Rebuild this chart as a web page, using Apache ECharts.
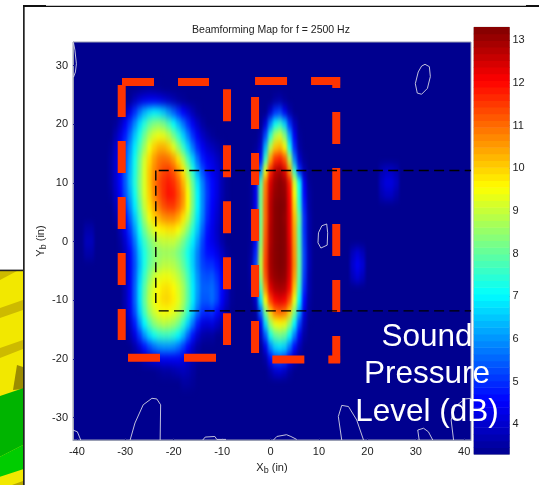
<!DOCTYPE html>
<html><head><meta charset="utf-8">
<style>
html,body{margin:0;padding:0;background:#fff;width:539px;height:485px;overflow:hidden}
#clip{position:absolute;left:73px;top:42px;width:398px;height:398px;overflow:hidden;background:#00008F}
#field{position:absolute;left:-73px;top:-42px;width:539px;height:485px;filter:url(#soft)}
#top{position:absolute;left:0;top:0;width:539px;height:485px}
</style>
<script src="https://cdn.jsdelivr.net/npm/echarts@6/dist/echarts.min.js"></script>
</head><body>
<svg width="0" height="0" style="position:absolute"><filter id="soft" x="0" y="0" width="100%" height="100%" color-interpolation-filters="sRGB"><feGaussianBlur stdDeviation="1.6 4"/></filter></svg>
<div id="clip"><div id="field"></div></div>
<div id="top"></div>
<script>
const F = 3.3;
const titleText = 'Beamforming Map for f = 2500 Hz';
const xTicks = [-40,-30,-20,-10,0,10,20,30,40];
const yTicks = [-30,-20,-10,0,10,20,30];
const barTicks = [4,5,6,7,8,9,10,11,12,13];
const fieldY = [26,24,22,20,18,16,14,12,10,8,6,4,2,0,-2,-4,-6,-8,-10,-12,-14,-16,-18,-20,-22,-24];
const leftX = [-34,-33,-32,-31,-30,-29,-28,-27,-26,-25,-24,-23,-22,-21,-20,-19,-18,-17,-16,-15,-14,-13,-12,-11,-10,-9,-8];
const leftRows = [
[F,F,F,F,F,F,F,3.35,3.4,3.45,3.4,3.35,F,F,F,F,F,F,F,F,F,F,F,F,F,F,F],
[F,F,F,F,F,3.4,3.8,4.1,4.3,4.4,4.4,4.3,4.1,3.9,3.7,3.5,3.4,F,F,F,F,F,F,F,F,F,F],
[F,F,F,3.4,3.7,4.3,5.0,5.7,6.3,6.7,6.9,6.8,6.5,6.0,5.5,5.0,4.5,4.1,3.7,3.4,F,F,F,F,F,F,F],
[F,F,3.4,3.8,4.4,5.1,5.9,6.7,7.4,8.0,8.3,8.4,8.2,7.7,7.1,6.4,5.7,5.0,4.4,3.9,3.5,F,F,F,F,F,F],
[F,F,3.7,4.2,4.8,5.6,6.5,7.3,8.1,8.8,9.2,9.4,9.3,8.9,8.2,7.5,6.6,5.8,5.0,4.4,3.9,3.6,3.4,F,F,F,F],
[F,3.4,3.9,4.5,5.2,6.0,6.9,7.8,8.6,9.4,10,10.3,10.3,10,9.3,8.5,7.6,6.6,5.7,4.9,4.4,4.0,3.8,3.6,3.4,F,F],
[F,3.5,4.0,4.6,5.3,6.2,7.2,8.2,9.1,9.9,10.5,10.9,11,10.9,10.5,9.8,8.8,7.7,6.6,5.6,4.8,4.4,4.2,3.9,3.6,3.4,F],
[F,3.5,4.0,4.6,5.4,6.3,7.3,8.3,9.2,10.1,10.7,11.1,11.4,11.5,11.2,10.6,9.8,8.6,7.4,6.2,5.3,4.7,4.4,4.1,3.7,3.4,F],
[F,3.5,4.0,4.6,5.4,6.4,7.4,8.4,9.2,10.1,10.8,11.3,11.6,11.8,11.6,11.1,10.3,9.2,8.0,6.8,5.8,5.0,4.6,4.2,3.7,3.4,F],
[F,3.4,3.9,4.5,5.3,6.2,7.2,8.3,9.2,10,10.7,11.2,11.6,11.9,11.8,11.3,10.6,9.5,8.2,7.0,5.9,5.1,4.6,4.2,3.7,3.4,F],
[F,F,3.7,4.3,5.0,5.9,6.9,8.0,9.0,9.8,10.4,10.9,11.3,11.5,11.5,11.1,10.5,9.5,8.2,7.0,5.9,5.0,4.5,4.1,3.6,3.4,F],
[F,F,3.5,4.0,4.6,5.5,6.5,7.6,8.6,9.4,10,10.3,10.6,10.7,10.7,10.4,9.8,9.0,7.9,6.8,5.8,4.9,4.4,4.0,3.6,F,F],
[F,F,F,3.7,4.3,5.1,6.1,7.2,8.1,8.8,9.3,9.6,9.7,9.8,9.8,9.5,9.0,8.3,7.4,6.5,5.5,4.7,4.3,3.9,3.5,F,F],
[F,F,F,3.5,4.0,4.8,5.7,6.8,7.6,8.2,8.6,8.9,9.0,9.0,9.0,8.7,8.2,7.6,6.9,6.1,5.2,4.6,4.3,4.0,3.6,F,F],
[F,F,F,3.4,3.8,4.5,5.4,6.5,7.3,7.9,8.3,8.5,8.6,8.6,8.5,8.2,7.8,7.2,6.6,5.8,5.1,4.7,4.6,4.3,3.9,3.5,F],
[F,F,F,F,3.7,4.4,5.3,6.4,7.3,8.0,8.4,8.7,8.9,8.9,8.8,8.5,8.0,7.4,6.6,5.8,5.2,5.0,5.0,4.7,4.2,3.7,3.4],
[F,F,F,F,3.7,4.4,5.4,6.6,7.6,8.4,9.0,9.3,9.4,9.4,9.2,8.9,8.4,7.7,6.8,6.0,5.4,5.3,5.4,5.0,4.5,3.9,3.4],
[F,F,F,F,3.7,4.4,5.5,6.8,7.9,8.8,9.3,9.6,9.8,9.8,9.6,9.2,8.7,7.9,6.9,6.1,5.5,5.5,5.6,5.2,4.6,4.0,3.4],
[F,F,F,F,3.7,4.4,5.5,6.8,8.0,8.9,9.4,9.7,9.9,9.9,9.7,9.3,8.7,7.9,6.9,6.0,5.4,5.4,5.6,5.2,4.5,3.9,3.4],
[F,F,F,F,3.6,4.3,5.3,6.6,7.7,8.6,9.1,9.4,9.5,9.5,9.3,9.0,8.4,7.5,6.5,5.6,5.0,4.9,5.0,4.6,4.1,3.6,F],
[F,F,F,F,3.4,3.9,4.8,6.0,7.0,7.8,8.4,8.7,8.9,8.8,8.6,8.2,7.5,6.6,5.7,4.8,4.2,4.1,4.2,3.9,3.6,F,F],
[F,F,F,F,F,3.6,4.2,5.1,6.0,6.7,7.2,7.5,7.6,7.6,7.4,7.0,6.4,5.5,4.7,4.0,3.6,3.5,3.5,F,F,F,F],
[F,F,F,F,F,F,3.6,4.1,4.7,5.2,5.6,5.9,6.0,6.0,5.9,5.6,5.1,4.5,3.9,3.5,F,F,F,F,F,F,F],
[F,F,F,F,F,F,F,3.4,3.7,3.9,4.1,4.3,4.4,4.4,4.4,4.4,4.2,3.9,3.6,3.4,F,F,F,F,F,F,F],
[F,F,F,F,F,F,F,F,F,F,F,3.4,3.5,3.5,3.6,3.7,3.8,3.7,3.5,F,F,F,F,F,F,F,F],
[F,F,F,F,F,F,F,F,F,F,F,F,F,F,F,F,3.5,3.5,3.4,F,F,F,F,F,F,F,F]
];
const rightX = [-6,-5,-4,-3,-2,-1,0,1,2,3,4,5,6,7,8,9,10];
const rightRows = [
[F,F,F,F,F,F,F,F,F,F,F,F,F,F,F,F,F],
[F,F,F,F,F,F,F,3.5,3.6,3.4,F,F,F,F,F,F,F],
[F,F,F,F,F,F,4.0,5.0,5.2,4.4,3.6,F,F,F,F,F,F],
[F,F,F,F,F,4.1,5.8,7.1,7.5,6.6,5.0,3.8,F,F,F,F,F],
[F,F,F,F,3.6,5.2,7.4,8.8,9.2,8.3,6.2,4.4,3.4,F,F,F,F],
[F,F,F,3.4,3.9,6.3,8.8,10.1,10.3,9.6,7.2,4.9,3.5,F,F,F,F],
[F,F,F,3.6,4.6,7.6,10.4,11.6,11.8,11.2,8.8,5.8,4.0,3.4,F,F,F],
[F,F,F,3.9,6.0,9.4,11.7,12.7,12.9,12.3,10.6,7.6,5.0,3.7,F,F,F],
[F,F,3.4,4.3,7.9,10.8,12.4,13,13.2,13,11.8,9.2,7.1,4.4,3.4,F,F],
[F,F,3.4,4.3,8.1,10.9,12.6,13.1,13.2,13.1,12,9.6,7.3,4.6,3.5,F,F],
[F,F,3.4,4.4,8.2,11,12.7,13.2,13.3,13.2,12.1,9.9,7.5,4.8,3.5,F,F],
[F,F,3.4,4.5,8.2,11,12.7,13.2,13.3,13.1,12.2,10.2,8.0,5.0,3.6,F,F],
[F,F,3.4,4.5,8.3,11.1,12.8,13.2,13.3,13.2,12.2,10.4,7.8,5.0,3.6,F,F],
[F,F,3.4,4.6,8.4,11.2,12.8,13.2,13.3,13.2,12.3,10.5,7.9,5.1,3.6,F,F],
[F,F,3.5,4.9,8.7,11.3,12.9,13.2,13.3,13.2,12.4,10.6,8.0,5.2,3.7,F,F],
[F,F,3.6,5.2,8.9,11.4,12.9,13.2,13.3,13.2,12.4,10.7,8.0,5.2,3.7,F,F],
[F,F,3.5,5.0,8.6,11.2,12.8,13.1,13.2,13.1,12.3,10.5,7.9,5.1,3.6,F,F],
[F,F,3.4,4.5,7.9,10.6,12.3,12.8,12.9,12.8,12,10.1,7.6,4.9,3.6,F,F],
[F,F,F,3.9,6.8,9.6,11.4,12.1,12.3,12.1,11.2,9.4,7.0,4.6,3.5,F,F],
[F,F,F,3.5,5.5,8.2,10,10.9,11.1,10.9,10,8.3,6.2,4.2,3.4,F,F],
[F,F,F,F,4.4,6.7,8.6,9.4,9.6,9.4,8.5,7.0,5.2,3.8,F,F,F],
[F,F,F,F,3.8,5.4,7.2,8.0,8.2,8.0,7.1,5.8,4.4,3.5,F,F,F],
[F,F,F,F,F,4.3,5.8,6.6,6.8,6.6,5.7,4.6,3.7,F,F,F,F],
[F,F,F,F,F,3.5,4.6,5.2,5.3,5.1,4.4,3.7,F,F,F,F,F],
[F,F,F,F,F,F,3.6,4.0,4.1,3.9,3.5,F,F,F,F,F,F],
[F,F,F,F,F,F,F,F,F,F,F,F,F,F,F,F,F]
];
const faintSpots = [[-38,2,3.6],[-37,2,3.6],[-38,0,3.8],[-37,0,3.8],[-38,-2,3.6],[-37,-2,3.6],
 [23,12,3.7],[24,12,3.9],[25,12,3.9],[26,12,3.7],[23,10,3.9],[24,10,4.2],[25,10,4.2],[26,10,3.9],[23,8,3.7],[24,8,3.9],[25,8,3.9],[26,8,3.6],
 [17,-2,3.8],[18,-2,4.1],[19,-2,3.8],[17,-4,4.0],[18,-4,4.4],[19,-4,4.1],[17,-6,3.8],[18,-6,4.1],[19,-6,3.8]];
const jetRamp = ['#00008F','#0000C7','#0000FF','#0040FF','#0080FF','#00BFFF','#00FFFF','#40FFBF','#80FF80','#BFFF40','#FFFF00','#FFBF00','#FF8000','#FF4000','#FF0000','#BF0000','#800000'];
const barMin = 3.3, barMax = 13.3;
const barLevels = [3.38,3.53,3.69,3.85,4.00,4.16,4.32,4.47,4.63,4.78,4.94,5.10,5.25,5.41,5.57,5.72,5.88,6.03,6.19,6.35,6.50,6.66,6.82,6.97,7.13,7.28,7.44,7.60,7.75,7.91,8.07,8.22,8.38,8.53,8.69,8.85,9.00,9.16,9.32,9.47,9.63,9.78,9.94,10.10,10.25,10.41,10.57,10.72,10.88,11.03,11.19,11.35,11.50,11.66,11.82,11.97,12.13,12.28,12.44,12.60,12.75,12.91,13.07,13.22];
const redBoxA = [
 [[-30.74,26.66],[-30.74,-16.75]],
 [[-30.68,27.17],[-12.71,27.17]],
 [[-8.99,25.97],[-8.99,-17.6]],
 [[-29.44,-19.8],[-11.26,-19.8]]
];
const redBoxB = [
 [[-3.2,24.61],[-3.2,-18.96]],
 [[-3.2,27.34],[14.36,27.34]],
 [[0.37,-20.1],[14.36,-20.1]]
];
const redBoxBRight = [[13.57,28.02],[13.57,-20.66]];
const blackBox = [
 [[-23.7,12.1],[-23.7,-10.9]],
 [[-23.1,12.1],[41.4,12.1]],
 [[-23.1,-11.8],[41.4,-11.8]]
];
const contours = [
 [[-40.7,33.9],[-40.4,32.6],[-40.1,30.3],[-40.3,28.9],[-40.7,28]],
 [[31.9,30.2],[32.8,29.8],[33,28.1],[32.4,26.1],[31.2,25.1],[30.3,25.3],[29.9,26.9],[30.5,28.9],[31.2,29.9],[31.9,30.2]],
 [[11.6,3],[11.8,1.5],[11.7,-0.6],[11.3,-0.9],[10.4,-1.1],[9.8,-0.2],[9.9,1.5],[10.6,2.7],[11.6,3]],
 [[-29,-33.8],[-28,-30.9],[-26.3,-27.8],[-24.5,-26.7],[-23.5,-26.8],[-22.7,-27.8],[-22.8,-33.8]],
 [[-40.8,-32.1],[-39.9,-32.4],[-39.2,-33.8]],
 [[-14,-33.8],[-13.5,-33.3],[-11.5,-33.2],[-11.1,-33.7],[-9.2,-33.7]],
 [[0.6,-33.8],[1.3,-33.2],[3.3,-32.9],[4.2,-33.2],[5.4,-33.7]],
 [[14.7,-33.8],[14,-29.8],[14.7,-27.9],[16.1,-28.1],[17.8,-30.4],[19.2,-33.8]],
 [[30.7,-33.8],[30.4,-32.1],[31.6,-31.8],[32.6,-32.4],[33.5,-33.8]],
 [[37.8,-33.8],[37.3,-30.4],[38.1,-28.1],[40.2,-26.8],[41.4,-26.7]]
];

const FONT = '"Liberation Sans",Arial,sans-serif';
const TXT = '#222';
const vm = (seriesIndex) => ({show:false,type:'continuous',min:barMin,max:barMax,seriesIndex,dimension:2,inRange:{color:jetRamp}});
/* ---- blurred field layer ---- */
const gridXCats = [];
for (let v=-43;v<=43;v++) gridXCats.push(String(v));
const allY = [];
for (let v=-34;v<=34;v+=2) allY.push(String(v));
const cells = [];
leftRows.forEach((row,r)=>row.forEach((v,c)=>{ if(v>F) cells.push([String(leftX[c]),String(fieldY[r]),v]); }));
rightRows.forEach((row,r)=>row.forEach((v,c)=>{ if(v>F) cells.push([String(rightX[c]),String(fieldY[r]),v]); }));
faintSpots.forEach(s=>cells.push([String(s[0]),String(s[1]),s[2]]));
const field = echarts.init(document.getElementById('field'),null,{renderer:'canvas'});
field.setOption({
  animation:false,
  grid:{left:60,top:36,width:421,height:411.25},
  xAxis:{type:'category',data:gridXCats,show:false},
  yAxis:{type:'category',data:allY,show:false},
  visualMap:vm(0),
  series:[{type:'heatmap',data:cells,silent:true,progressive:0,itemStyle:{borderWidth:0}}]
});
/* ---- sharp layer ---- */
const chart = echarts.init(document.getElementById('top'),null,{renderer:'canvas'});
const axisLab = {color:TXT,fontFamily:FONT,fontSize:11};
const rich = {n:{color:TXT,fontFamily:FONT,fontSize:11},s:{color:TXT,fontFamily:FONT,fontSize:9,verticalAlign:'bottom',padding:[5,0,0,0]}};
const seg = (pts,color,width,dash,off,z) => ({type:'line',xAxisIndex:0,yAxisIndex:0,data:pts,showSymbol:false,symbol:'none',silent:true,clip:false,z,
  lineStyle:{color,width,type:dash,dashOffset:off||0,cap:'butt'}});
const series = [];
contours.forEach(c=>series.push(seg(c,'#D5D5E5',0.9,'solid',0,3)));
redBoxA.concat(redBoxB).forEach(s=>series.push(seg(s,'#FF3300',8,[32,24],0,4)));
series.push(seg(redBoxBRight,'#FF3300',8,[32,24],21,4));
blackBox.forEach(s=>series.push(seg(s,'#000',1.4,[10,5.3],0,5)));
const barIdx = series.length;
series.push({type:'heatmap',xAxisIndex:1,yAxisIndex:1,data:barLevels.map((v,i)=>[0,i,v]),silent:true,progressive:0,z:2});
chart.setOption({
  animation:false,
  title:{text:titleText,left:266,top:20,textAlign:'center',textStyle:{fontFamily:FONT,fontSize:10.5,fontWeight:'normal',color:TXT}},
  visualMap:vm(barIdx),
  grid:[
    {left:73,top:42,width:398,height:398,show:true,borderColor:'#9a9fb4',borderWidth:1,backgroundColor:'transparent'},
    {left:474,top:27.3,width:35.4,height:427,show:true,borderColor:'#aaa',borderWidth:1,backgroundColor:'transparent'}
  ],
  xAxis:[
    {type:'value',gridIndex:0,min:-40.8,max:41.4,splitLine:{show:false},
     axisLine:{show:true,onZero:false,lineStyle:{color:'#9a9fb4'}},
     axisTick:{show:true,inside:true,length:2,customValues:xTicks,lineStyle:{color:'#1a1a90'}},
     axisLabel:Object.assign({customValues:xTicks,margin:6},axisLab),
     name:'{n|X}{s|b}{n| (in)}',nameLocation:'middle',nameGap:21,nameMoveOverlap:false,nameTextStyle:{rich}},
    {type:'category',gridIndex:1,data:['0'],show:false}
  ],
  yAxis:[
    {type:'value',gridIndex:0,min:-33.8,max:34,splitLine:{show:false},
     axisLine:{show:true,onZero:false,lineStyle:{color:'#9a9fb4'}},
     axisTick:{show:true,inside:true,length:2,customValues:yTicks,lineStyle:{color:'#1a1a90'}},
     axisLabel:Object.assign({customValues:yTicks,margin:5},axisLab),
     name:'{n|Y}{s|b}{n| (in)}',nameLocation:'middle',nameGap:25,nameMoveOverlap:false,nameRotate:90,nameTextStyle:{rich}},
    {type:'category',gridIndex:1,data:barLevels.map(String),show:false},
    {type:'value',gridIndex:1,position:'right',min:barMin,max:barMax,splitLine:{show:false},
     axisLine:{show:false},
     axisTick:{show:true,inside:true,length:3,customValues:barTicks,lineStyle:{color:'#444'}},
     axisLabel:Object.assign({customValues:barTicks,margin:3},axisLab)},
    {type:'value',gridIndex:1,position:'left',min:barMin,max:barMax,splitLine:{show:false},
     axisLine:{show:false},
     axisTick:{show:true,inside:true,length:3,customValues:barTicks,lineStyle:{color:'#444'}},
     axisLabel:{show:false}}
  ],
  series,
  graphic:[
    {type:'group',silent:true,z:-1,children:[
      {type:'rect',shape:{x:0,y:271,width:23,height:214},style:{fill:'#F2E800'}},
      {type:'polygon',shape:{points:[[0,271],[17,271],[0,280]]},style:{fill:'#CDBA00'}},
      {type:'polygon',shape:{points:[[0,308],[23,300],[23,310],[0,318]]},style:{fill:'#CDBA00'}},
      {type:'polygon',shape:{points:[[0,348],[23,340],[23,349],[0,358]]},style:{fill:'#CDBA00'}},
      {type:'polygon',shape:{points:[[13,390],[17,365],[23,367],[23,389]]},style:{fill:'#9C8C00'}},
      {type:'polygon',shape:{points:[[0,396],[23,388.3],[23,445],[0,456.7]]},style:{fill:'#00B400'}},
      {type:'polygon',shape:{points:[[0,456.7],[23,445],[23,469.3],[0,476.7]]},style:{fill:'#00CC00'}},
      {type:'polygon',shape:{points:[[12,485],[23,481],[23,485]]},style:{fill:'#B8A800'}},
      {type:'rect',shape:{x:0,y:269.6,width:23,height:1.6},style:{fill:'#222'}},
      {type:'rect',shape:{x:23,y:5,width:1.7,height:480},style:{fill:'#222'}},
      {type:'rect',shape:{x:23,y:5.8,width:516,height:1.2},style:{fill:'#111'}},
      {type:'rect',shape:{x:23,y:5,width:23,height:1.6},style:{fill:'#111'}},
      {type:'rect',shape:{x:526,y:5,width:13,height:1.6},style:{fill:'#111'}}
    ]},
    {type:'text',z:100,silent:true,x:427,y:318.5,style:{text:'Sound\nPressure\nLevel (dB)',fill:'#fff',align:'center',verticalAlign:'top',lineHeight:37.5,font:'31.5px "Liberation Sans",sans-serif'}}
  ]
});
</script>
</body></html>
